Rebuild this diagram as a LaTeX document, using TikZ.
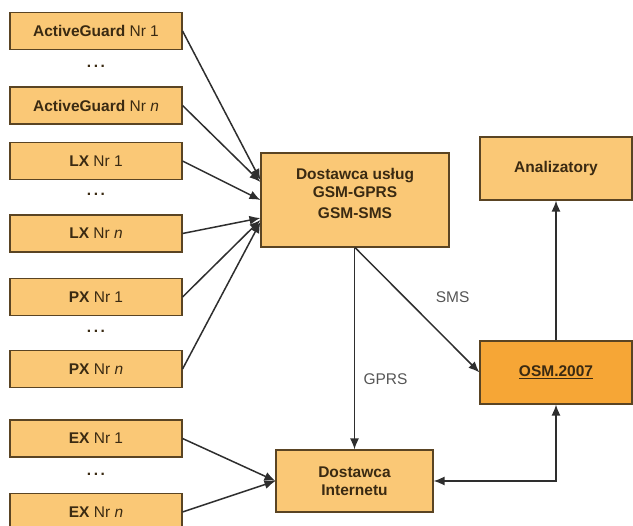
\documentclass[tikz,border=0pt]{standalone}
\usepackage{fontspec}
\setmainfont{Liberation Sans}
\usetikzlibrary{calc,arrows.meta}

\definecolor{boxfill}{HTML}{FAC876}
\definecolor{osmfill}{HTML}{F6A636}
\definecolor{boxline}{HTML}{5A4423}
\definecolor{txt}{HTML}{3A2A12}
\definecolor{conn}{HTML}{2E2E2E}
\definecolor{lbl}{HTML}{555555}

\tikzset{
    box/.style={draw=boxline, fill=boxfill, line width=1.1pt, inner sep=0pt,
        align=center, text=txt, font=\fontsize{15.5}{18}\selectfont},
    srcbox/.style={box, minimum width=172pt, minimum height=37pt},
    dots/.style={text=txt, font=\fontsize{15.5}{18}\selectfont\bfseries},
    link/.style={draw=conn, line width=1.5pt, -{Latex[length=11pt,width=9pt]}},
    lbltext/.style={text=lbl, font=\fontsize{15.5}{18}\selectfont}
}

\begin{document}
\begin{tikzpicture}[x=1pt, y=-1pt]
    \useasboundingbox (0,0) rectangle (633,526);

    % sources
    \node[srcbox] (ag_1) at (96, 31) {\textbf{ActiveGuard} Nr 1};
    \node[dots] (ag_dots) at (96, 66) {.\,.\,.};
    \node[srcbox] (ag_n) at (96, 105.5) {\textbf{ActiveGuard} Nr \textit{n}};

    \node[srcbox] (lx_1) at (96, 161) {\textbf{LX} Nr 1};
    \node[dots] (lx_dots) at (96, 194) {.\,.\,.};
    \node[srcbox] (lx_n) at (96, 233.5) {\textbf{LX} Nr \textit{n}};

    \node[srcbox] (px_1) at (96, 297) {\textbf{PX} Nr 1};
    \node[dots] (px_dots) at (96, 331) {.\,.\,.};
    \node[srcbox] (px_n) at (96, 369) {\textbf{PX} Nr \textit{n}};

    \node[srcbox] (ex_1) at (96, 438.5) {\textbf{EX} Nr 1};
    \node[dots] (ex_dots) at (96, 474) {.\,.\,.};
    \node[srcbox] (ex_n) at (96, 512) {\textbf{EX} Nr \textit{n}};

    % providers
    \node[box, minimum width=188pt, minimum height=94pt] (gsm) at (355, 200)
    {\textbf{Dostawca usług} \\ \textbf{GSM-GPRS} \\[3pt] \textbf{GSM-SMS} \\[-11pt] \strut};

    \node[box, minimum width=157pt, minimum height=62pt] (inet) at (354.5, 481)
    {\textbf{Dostawca} \\ \textbf{Internetu}};

    % OSM and analysers
    \node[box, fill=osmfill, minimum width=152pt, minimum height=63pt] (osm) at (556, 372.5)
    {\textbf{\underline{OSM.2007}}};

    \node[box, minimum width=152pt, minimum height=63pt] (anal) at (556, 168.5)
    {\textbf{Analizatory}};

    % connectors into GSM provider
    \draw[link] (ag_1.east) -- ($(gsm.west) + (0, -20)$);
    \draw[link] (ag_n.east) -- ($(gsm.west) + (0, -18)$);
    \draw[link] (lx_1.east) -- (gsm.west);
    \draw[link] (lx_n.east) -- ($(gsm.west) + (0, 18)$);
    \draw[link] (px_1.east) -- ($(gsm.west) + (0, 20)$);
    \draw[link] (px_n.east) -- ($(gsm.west) + (0, 22)$);

    % connectors into internet provider
    \draw[link] (ex_1.east) -- (inet.west);
    \draw[link] (ex_n.east) -- (inet.west);

    % GPRS / SMS
    \draw[link] (gsm.south -| inet.north) -- (inet.north)
        node[lbltext, pos=0.65, anchor=west, xshift=5pt] (gprs_lbl) {GPRS};
    \draw[link] (gsm.south) -- (osm.west)
        node[lbltext, pos=0.4, anchor=west, xshift=27pt] (sms_lbl) {SMS};

    % OSM links
    \draw[link] (osm.north) -- (anal.south);
    \draw[link, {Latex[length=11pt,width=9pt]}-{Latex[length=11pt,width=9pt]}] (inet.east) -| (osm.south);

\end{tikzpicture}
\end{document}
